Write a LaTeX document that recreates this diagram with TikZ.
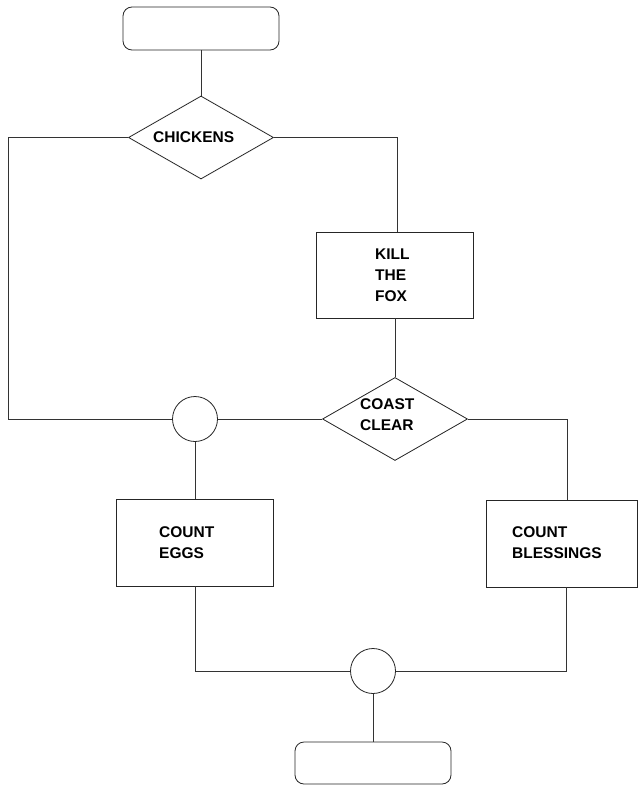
\documentclass[tikz,border=0pt]{standalone}
\usepackage{fontspec}
\setmainfont{Liberation Sans}
\usetikzlibrary{shapes.geometric}
\begin{document}
\begin{tikzpicture}[x=1pt,y=-1pt,
  ln/.style={draw=black!80, line width=0.8pt},
  term/.style={draw=black!85, line width=0.8pt, rounded corners=9pt, minimum width=156pt, minimum height=43pt, inner sep=0pt},
  proc/.style={draw=black!85, line width=0.8pt, rectangle, inner sep=0pt},
  dia/.style={draw=black!85, line width=0.8pt, diamond, inner sep=0pt, minimum width=145pt, minimum height=83pt},
  junc/.style={draw=black!85, line width=0.8pt, circle, inner sep=0pt, minimum size=45pt},
  lbl/.style={anchor=west, align=left, inner sep=0pt, font=\fontsize{15.5}{21}\selectfont\bfseries}
]
\fill[white] (0,0) rectangle (638,787);
\node[term] (top) at (201,28.5) {};
\node[dia] (chick) at (201,137.5) {};
\node[proc, minimum width=157pt, minimum height=86pt] (kill) at (395,275) {};
\node[dia] (coast) at (395,419) {};
\node[junc] (j1) at (195,419) {};
\node[proc, minimum width=157pt, minimum height=87pt] (eggs) at (195,542.5) {};
\node[proc, minimum width=151pt, minimum height=87pt] (bless) at (561.5,543.5) {};
\node[junc] (j2) at (373,671) {};
\node[term, minimum height=42pt] (bot) at (373,763) {};

\node[lbl] (tchick) at (153,137.5) {CHICKENS};
\node[lbl] (tkill) at (375,275.5) {KILL\\THE\\FOX};
\node[lbl] (tcoast) at (360,415) {COAST\\CLEAR};
\node[lbl] (teggs) at (159,542.5) {COUNT\\EGGS};
\node[lbl] (tbless) at (512,542.5) {COUNT\\BLESSINGS};

\draw[ln] (top.south) -- (chick.north);
\draw[ln] (chick.west) -- ++(-120,0) |- (j1.west);
\draw[ln] (chick.east) -| ([xshift=2pt]kill.north);
\draw[ln] (kill.south) -- (coast.north);
\draw[ln] (j1.east) -- (coast.west);
\draw[ln] (coast.east) -| ([xshift=5.5pt]bless.north);
\draw[ln] (j1.south) -- (eggs.north);
\draw[ln] (eggs.south) |- (j2.west);
\draw[ln] ([xshift=4.5pt]bless.south) |- (j2.east);
\draw[ln] (j2.south) -- (bot.north);
\end{tikzpicture}
\end{document}
